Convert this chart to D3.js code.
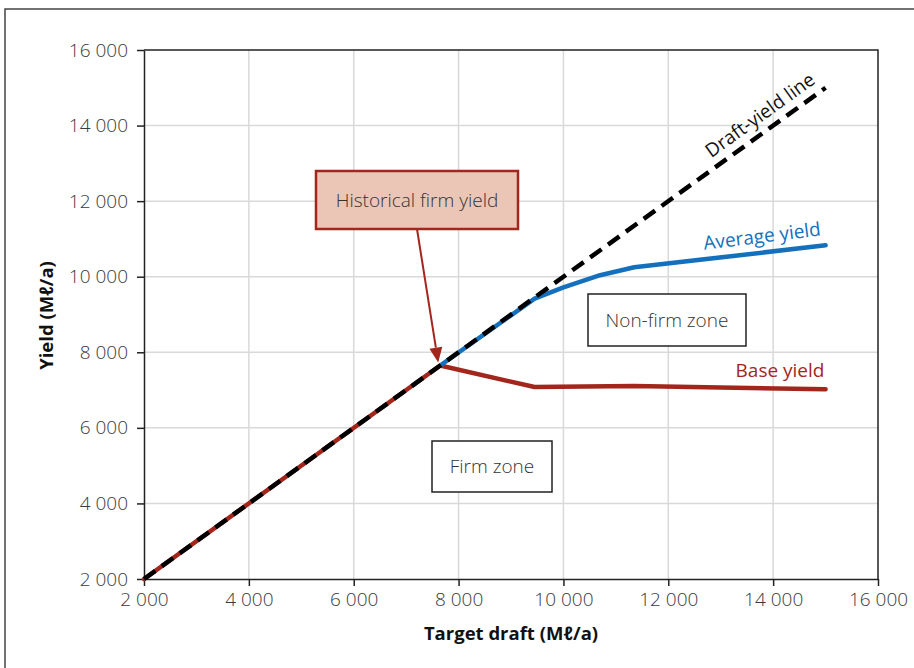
<!DOCTYPE html>
<html>
<head>
<meta charset="utf-8">
<script src="https://cdn.jsdelivr.net/npm/d3@7"></script>
<style>
  body { margin: 0; background: #fff; }
  text { font-family: "Open Sans", "Noto Sans", sans-serif; }
</style>
</head>
<body>
<div id="chart"></div>
<script>
// tick values (both axes use the same range)
const xTicks = [2000, 4000, 6000, 8000, 10000, 12000, 14000, 16000];
const yTicks = [2000, 4000, 6000, 8000, 10000, 12000, 14000, 16000];

// draft-yield line (1:1)
const draftX = [2000, 15000];
const draftY = [2000, 15000];

// base yield
const baseX = [2000, 7650, 9450, 11350, 15000];
const baseY = [2000, 7650, 7080, 7110, 7020];

// average yield
const avgX = [7650, 9450, 10000, 10700, 11350, 15000];
const avgY = [7650, 9420, 9720, 10040, 10250, 10830];

const W = 914, H = 668;
const m = {left: 144, top: 50, right: 36, bottom: 89};
const iw = W - m.left - m.right, ih = H - m.top - m.bottom;

const red = "#a3261c", blue = "#1470bd";

const loc = d3.formatLocale({decimal: ".", thousands: " ", grouping: [3], currency: ["", ""]});
const fmt = loc.format(",");

var svg = d3.select("#chart").append("svg")
  .attr("width", W).attr("height", H);

// outer frame
svg.append("rect")
  .attr("x", 5).attr("y", 9).attr("width", W + 20).attr("height", H + 20)
  .attr("fill", "none").attr("stroke", "#444").attr("stroke-width", 1.5);

var x = d3.scaleLinear().domain([2000, 16000]).range([0, iw]);
var y = d3.scaleLinear().domain([2000, 16000]).range([ih, 0]);

var g = svg.append("g").attr("transform", `translate(${m.left},${m.top})`);

// grid
g.append("g").selectAll("line").data(xTicks.slice(1, -1)).join("line")
  .attr("x1", d => x(d)).attr("x2", d => x(d)).attr("y1", 0).attr("y2", ih)
  .attr("stroke", "#d9d9d9").attr("stroke-width", 1.5);
g.append("g").selectAll("line").data(yTicks.slice(1, -1)).join("line")
  .attr("y1", d => y(d)).attr("y2", d => y(d)).attr("x1", 0).attr("x2", iw)
  .attr("stroke", "#d9d9d9").attr("stroke-width", 1.5);

// axes
var xAxis = g.append("g").attr("transform", `translate(0,${ih})`)
  .call(d3.axisBottom(x).tickValues(xTicks).tickFormat(fmt).tickSize(7).tickSizeOuter(0));
var yAxis = g.append("g")
  .call(d3.axisLeft(y).tickValues(yTicks).tickFormat(fmt).tickSize(7).tickSizeOuter(0));
[xAxis, yAxis].forEach(a => {
  a.select(".domain").attr("stroke", "#222").attr("stroke-width", 1.5);
  a.selectAll(".tick line").attr("stroke", "#222").attr("stroke-width", 1.5);
  a.selectAll(".tick text").attr("fill", "#3a3a3a").attr("font-size", 19)
    .attr("font-weight", 300)
    .style("font-family", '"Open Sans", sans-serif');
});
xAxis.selectAll(".tick text").attr("y", 9).attr("dy", "0.95em");
yAxis.selectAll(".tick text").attr("x", -16);

// top and right frame
g.append("path")
  .attr("d", `M0,0H${iw}V${ih}`)
  .attr("fill", "none").attr("stroke", "#222").attr("stroke-width", 1.5);

var line = d3.line().x(d => x(d[0])).y(d => y(d[1]));

g.append("path").attr("d", line(d3.zip(baseX, baseY)))
  .attr("fill", "none").attr("stroke", red).attr("stroke-width", 4.5)
  .attr("stroke-linejoin", "round").attr("stroke-linecap", "round");
g.append("path").attr("d", line(d3.zip(avgX, avgY)))
  .attr("fill", "none").attr("stroke", blue).attr("stroke-width", 4.5)
  .attr("stroke-linejoin", "round").attr("stroke-linecap", "round");
g.append("path").attr("d", line(d3.zip(draftX, draftY)))
  .attr("fill", "none").attr("stroke", "#000").attr("stroke-width", 4.5)
  .attr("stroke-dasharray", "14 8");

// axis titles
svg.append("text").attr("x", m.left + iw / 2).attr("y", 640)
  .attr("text-anchor", "middle").attr("font-size", 18.5).attr("font-weight", "bold")
  .attr("fill", "#111").text("Target draft (Mℓ/a)");
svg.append("text").attr("transform", `translate(53,${m.top + ih / 2 + 1}) rotate(-90)`)
  .attr("text-anchor", "middle").attr("font-size", 18.5).attr("font-weight", "bold")
  .attr("fill", "#111").text("Yield (Mℓ/a)");

// line labels
var ang = Math.atan2(y(2000) - y(15000), x(15000) - x(2000)) * 180 / Math.PI;
svg.append("text").attr("transform", `translate(760,115) rotate(${-ang})`)
  .attr("text-anchor", "middle").attr("dy", "0.35em").attr("font-size", 19)
  .attr("fill", "#111").text("Draft-yield line");
svg.append("text").attr("transform", `translate(762,236) rotate(-7)`)
  .attr("text-anchor", "middle").attr("dy", "0.35em").attr("font-size", 19)
  .attr("fill", blue).text("Average yield");
svg.append("text").attr("x", 780).attr("y", 370)
  .attr("text-anchor", "middle").attr("dy", "0.35em").attr("font-size", 19)
  .attr("fill", red).text("Base yield");

// boxes
function box(x0, y0, w, h, label, fill, stroke, sw) {
  svg.append("rect").attr("x", x0).attr("y", y0).attr("width", w).attr("height", h)
    .attr("fill", fill).attr("stroke", stroke).attr("stroke-width", sw);
  svg.append("text").attr("x", x0 + w / 2).attr("y", y0 + h / 2).attr("dy", "0.35em")
    .attr("text-anchor", "middle").attr("font-size", 19).attr("font-weight", 300)
    .attr("fill", "#333").text(label);
}
box(316, 171, 202, 58, "Historical firm yield", "#ebc6b6", red, 2.5);
box(588, 294, 158, 52, "Non-firm zone", "#fff", "#222", 1.5);
box(432, 441, 120, 51, "Firm zone", "#fff", "#222", 1.5);

// arrow
var tx = m.left + x(7650) - 2, ty = m.top + y(7650) - 3;
var sx = 417, sy = 229;
var a = Math.atan2(ty - sy, tx - sx);
var L = 15, hw = 6.5;
var bx = tx - L * Math.cos(a), by = ty - L * Math.sin(a);
svg.append("line").attr("x1", sx).attr("y1", sy).attr("x2", bx).attr("y2", by)
  .attr("stroke", red).attr("stroke-width", 2);
svg.append("path")
  .attr("d", `M${tx},${ty}L${bx + hw * Math.sin(a)},${by - hw * Math.cos(a)}L${bx - hw * Math.sin(a)},${by + hw * Math.cos(a)}Z`)
  .attr("fill", red);
</script>
</body>
</html>
